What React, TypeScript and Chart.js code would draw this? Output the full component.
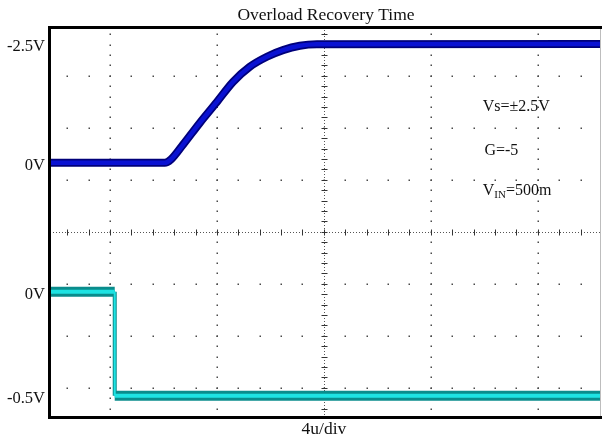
import { useEffect, useRef } from 'react';
import { Chart, registerables } from 'chart.js';

Chart.register(...registerables);

// ---- data (time in microseconds, voltage in volts) ----
const ch1TimeUs = [-10.24, -5.95, -5.72, -5.27, -4.64, -4.0, -3.4, -2.77, -2.13, -1.53, -0.9, -0.26, 10.36];
const ch1Volts = [0, 0, -0.07, -0.38, -0.84, -1.28, -1.7, -2.02, -2.23, -2.37, -2.46, -2.49, -2.5];
const ch2TimeUs = [-10.24, -7.82, -7.82, 10.36];
const ch2Volts = [0, 0, -0.5, -0.5];

const ch1TickValues = [-2.5, 0];
const ch1TickLabels = ['-2.5V', '0V'];
const ch2TickValues = [0, -0.5];
const ch2TickLabels = ['0V', '-0.5V'];

const timeMajorTicks = [-8, -4, 0, 4, 8];
const divMajorTicks = [-3, -2, -1, 0, 1, 2, 3];

const titleText = 'Overload Recovery Time';
const xAxisText = '4u/div';
const noteMain = ['Vs=±2.5V', 'G=-5', 'V'];
const noteSub = ['', '', 'IN'];
const noteTail = ['', '', '=500m'];
const noteTimeUs = [5.94, 6.0, 5.94];
const noteDiv = [2.33, 1.48, 0.71];

// ---- scale setup ----
const X_MIN = -10.24;
const X_MAX = 10.36;
const DIV_MIN = -3.58;
const DIV_MAX = 3.94;
const TIME_MINOR = 0.8;
const DIV_MINOR = 0.2;
const CH1_ZERO_DIV = 1.327;
const CH1_DIV_PER_VOLT = -0.9152;
const CH2_ZERO_DIV = -1.154;
const CH2_DIV_PER_VOLT = 4;

const ch1Min = (DIV_MAX - CH1_ZERO_DIV) / CH1_DIV_PER_VOLT;
const ch1Max = (DIV_MIN - CH1_ZERO_DIV) / CH1_DIV_PER_VOLT;
const ch2Min = (DIV_MIN - CH2_ZERO_DIV) / CH2_DIV_PER_VOLT;
const ch2Max = (DIV_MAX - CH2_ZERO_DIV) / CH2_DIV_PER_VOLT;

const SERIF = '"Liberation Serif", "DejaVu Serif", serif';

const gridPlugin = {
  id: 'scopeGrid',
  beforeDatasetsDraw(chart: any) {
    const { ctx, chartArea } = chart;
    const xs = chart.scales.x;
    const yd = chart.scales.yDiv;
    ctx.save();
    ctx.fillStyle = '#4a4a4a';
    const kyMin = Math.ceil(DIV_MIN / DIV_MINOR);
    const kyMax = Math.floor(DIV_MAX / DIV_MINOR);
    const kxMin = Math.ceil(X_MIN / TIME_MINOR);
    const kxMax = Math.floor(X_MAX / TIME_MINOR);
    for (const t of timeMajorTicks) {
      if (t === 0) continue;
      const px = Math.round(xs.getPixelForValue(t));
      for (let k = kyMin; k <= kyMax; k++) {
        const py = Math.round(yd.getPixelForValue(k * DIV_MINOR));
        ctx.fillRect(px - 0.5, py - 0.5, 1.5, 1.5);
      }
    }
    for (const d of divMajorTicks) {
      if (d === 0) continue;
      const py = Math.round(yd.getPixelForValue(d));
      for (let k = kxMin; k <= kxMax; k++) {
        const px = Math.round(xs.getPixelForValue(k * TIME_MINOR));
        ctx.fillRect(px - 0.5, py - 0.5, 1.5, 1.5);
      }
    }
    // centre lines
    const cx = Math.round(xs.getPixelForValue(0)) + 0.5;
    const cy = Math.round(yd.getPixelForValue(0)) + 0.5;
    ctx.strokeStyle = '#555';
    ctx.lineWidth = 1;
    ctx.setLineDash([1, 2]);
    ctx.beginPath();
    ctx.moveTo(cx, chartArea.top);
    ctx.lineTo(cx, chartArea.bottom);
    ctx.moveTo(chartArea.left, cy);
    ctx.lineTo(chartArea.right, cy);
    ctx.stroke();
    ctx.setLineDash([]);
    ctx.strokeStyle = '#333';
    ctx.beginPath();
    for (let k = kyMin; k <= kyMax; k++) {
      const py = Math.round(yd.getPixelForValue(k * DIV_MINOR)) + 0.5;
      ctx.moveTo(cx - 3, py);
      ctx.lineTo(cx + 3, py);
    }
    for (let k = kxMin; k <= kxMax; k++) {
      const px = Math.round(xs.getPixelForValue(k * TIME_MINOR)) + 0.5;
      ctx.moveTo(px, cy - 3);
      ctx.lineTo(px, cy + 3);
    }
    ctx.stroke();
    ctx.restore();
  },
};

const decorPlugin = {
  id: 'scopeDecor',
  afterDraw(chart: any) {
    const { ctx, chartArea } = chart;
    const xs = chart.scales.x;
    const yd = chart.scales.yDiv;
    const y1 = chart.scales.yCh1;
    const y2 = chart.scales.yCh2;
    ctx.save();
    // frame
    ctx.fillStyle = '#000';
    ctx.fillRect(48, chartArea.top - 1, chart.width - 48, 3);
    ctx.fillRect(48, chartArea.top - 1, 3, chartArea.bottom - chartArea.top + 2);
    ctx.fillRect(48, chartArea.bottom - 2, chart.width - 48, 3);
    ctx.fillStyle = '#bdbdbd';
    ctx.fillRect(chartArea.right - 1, chartArea.top + 2, 1, chartArea.bottom - chartArea.top - 4);

    ctx.fillStyle = '#111';
    // title
    ctx.font = `17.5px ${SERIF}`;
    ctx.textAlign = 'center';
    ctx.textBaseline = 'alphabetic';
    ctx.fillText(titleText, 326, 19.5);
    // x axis text
    ctx.font = `17.5px ${SERIF}`;
    ctx.fillText(xAxisText, xs.getPixelForValue(0), 434);
    // channel labels
    ctx.font = `16.5px ${SERIF}`;
    ctx.textAlign = 'right';
    ctx.textBaseline = 'middle';
    ch1TickValues.forEach((v, i) => {
      ctx.fillText(ch1TickLabels[i], 45, y1.getPixelForValue(v) + 3);
    });
    ch2TickValues.forEach((v, i) => {
      ctx.fillText(ch2TickLabels[i], 45, y2.getPixelForValue(v) + 3);
    });
    // notes
    ctx.textAlign = 'left';
    ctx.textBaseline = 'alphabetic';
    noteMain.forEach((m, i) => {
      let px = xs.getPixelForValue(noteTimeUs[i]);
      const py = yd.getPixelForValue(noteDiv[i]);
      ctx.font = `16px ${SERIF}`;
      ctx.fillText(m, px, py);
      px += ctx.measureText(m).width;
      if (noteSub[i]) {
        ctx.font = `11px ${SERIF}`;
        ctx.fillText(noteSub[i], px, py + 3);
        px += ctx.measureText(noteSub[i]).width;
      }
      if (noteTail[i]) {
        ctx.font = `16px ${SERIF}`;
        ctx.fillText(noteTail[i], px, py);
      }
    });
    ctx.restore();
  },
};

const isVertical = (c: any) => c.p0.parsed.x === c.p1.parsed.x;

export default function App() {
  const canvasRef = useRef<HTMLCanvasElement | null>(null);

  useEffect(() => {
    if (!canvasRef.current) return;
    const ch1 = ch1TimeUs.map((t, i) => ({ x: t, y: ch1Volts[i] }));
    const ch2 = ch2TimeUs.map((t, i) => ({ x: t, y: ch2Volts[i] }));
    const chart = new Chart(canvasRef.current, {
      type: 'line',
      data: {
        datasets: [
          {
            label: 'CH1 core',
            data: ch1,
            yAxisID: 'yCh1',
            borderColor: '#0a12d2',
            borderWidth: 4.5,
            cubicInterpolationMode: 'monotone',
            pointRadius: 0,
            order: 0,
          },
          {
            label: 'CH1',
            data: ch1,
            yAxisID: 'yCh1',
            borderColor: '#00007a',
            borderWidth: 8,
            cubicInterpolationMode: 'monotone',
            pointRadius: 0,
            order: 1,
          },
          {
            label: 'CH2 core',
            data: ch2,
            yAxisID: 'yCh2',
            borderColor: '#1ee3e3',
            borderWidth: 4,
            pointRadius: 0,
            order: 0,
            segment: { borderWidth: (c: any) => (isVertical(c) ? 2 : 4) },
          },
          {
            label: 'CH2',
            data: ch2,
            yAxisID: 'yCh2',
            borderColor: '#0a8c8c',
            borderWidth: 10,
            pointRadius: 0,
            order: 1,
            segment: { borderWidth: (c: any) => (isVertical(c) ? 4 : 10) },
          },
        ],
      } as any,
      options: {
        responsive: false,
        animation: false,
        layout: { padding: { left: 50, right: 1, top: 27, bottom: 23 } },
        plugins: {
          legend: { display: false },
          tooltip: { enabled: false },
          title: { display: false },
        },
        scales: {
          x: { type: 'linear', min: X_MIN, max: X_MAX, display: false },
          yDiv: { type: 'linear', min: DIV_MIN, max: DIV_MAX, display: false },
          yCh1: { type: 'linear', reverse: true, min: ch1Min, max: ch1Max, display: false },
          yCh2: { type: 'linear', min: ch2Min, max: ch2Max, display: false },
        },
      } as any,
      plugins: [gridPlugin, decorPlugin],
    });
    return () => chart.destroy();
  }, []);

  return (
    <div style={{ position: 'absolute', left: 0, top: 0, width: 602, height: 441, background: '#fff' }}>
      <canvas ref={canvasRef} width={602} height={441} />
    </div>
  );
}
